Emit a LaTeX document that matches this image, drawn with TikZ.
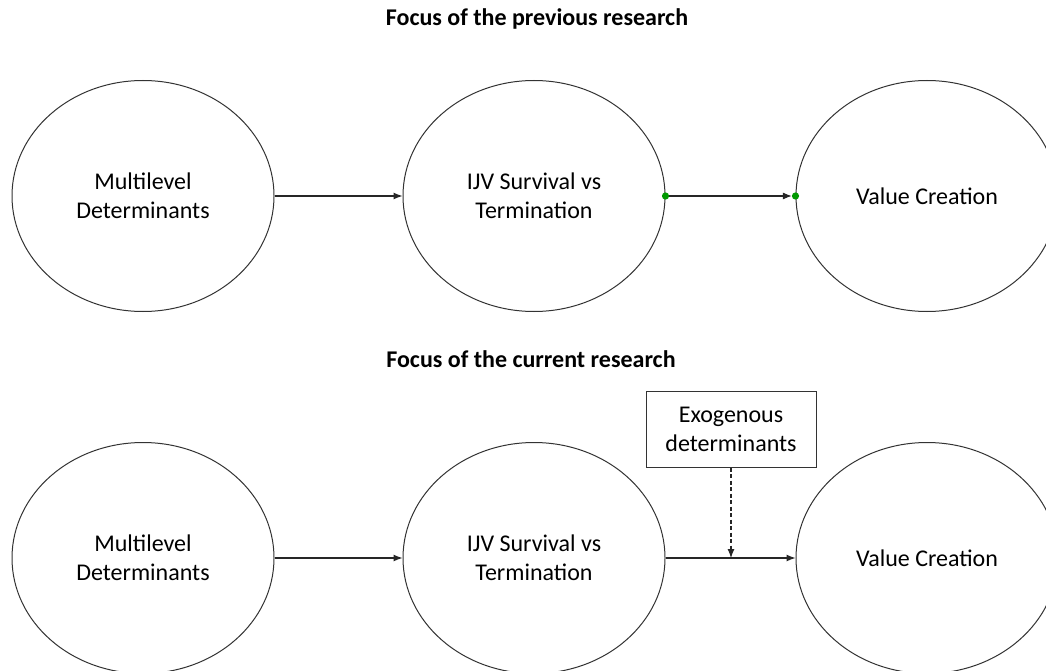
\documentclass[tikz,border=0pt]{standalone}
\usepackage{fontspec}
\setmainfont{Carlito}
\usetikzlibrary{shapes.geometric,arrows.meta}
\tikzset{>={Latex[length=9pt,width=7pt]}}
\colorlet{dotgreen}{black!40!green}
\newcommand{\lbl}{\fontsize{24}{29}\selectfont}
\newcommand{\ttl}{\fontsize{24}{28}\selectfont\bfseries}

\begin{document}
\begin{tikzpicture}[x=1pt,y=-1pt,
  oval/.style={ellipse,draw=black!80,line width=1pt,minimum width=262pt,
    minimum height=231pt,inner sep=0pt,align=center,font=\lbl},
  flow/.style={->,line width=1.1pt,black!85}]
  \useasboundingbox (0,0) rectangle (1046,671);
  \clip (0,0) rectangle (1046,671);
  % previous research
  \node[font=\ttl] (ttlA) at (537,19) {Focus of the previous research};
  \node[oval] (mdA)  at (143,196) {Multilevel\\Determinants};
  \node[oval] (ijvA) at (534,196) {IJV Survival vs\\Termination};
  \node[oval] (vcA)  at (927,196) {Value Creation};
  \draw[flow] (mdA) -- (ijvA);
  \draw[flow,shorten >=3.6pt] (ijvA.east) -- (vcA.west);
  \fill[dotgreen] (ijvA.east) circle (3.6);
  \fill[dotgreen] (vcA.west) circle (3.6);
  % current research
  \node[font=\ttl] (ttlB) at (531,359) {Focus of the current research};
  \node[oval] (mdB)  at (143,558) {Multilevel\\Determinants};
  \node[oval] (ijvB) at (534,558) {IJV Survival vs\\Termination};
  \node[oval] (vcB)  at (927,558) {Value Creation};
  \node[draw=black!80,line width=1pt,minimum width=170pt,minimum height=76pt,
    align=center,font=\lbl] (exo) at (731,429) {Exogenous\\determinants};
  \draw[flow] (mdB) -- (ijvB);
  \draw[flow] (ijvB) -- (vcB);
  \draw[flow,dash pattern=on 4pt off 2.5pt] (exo.south) -- (exo.south |- ijvB.east);
\end{tikzpicture}
\end{document}
